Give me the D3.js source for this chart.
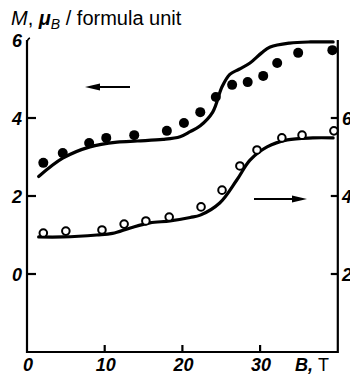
<!DOCTYPE html>
<html><head><meta charset="utf-8">
<script src="https://cdn.jsdelivr.net/npm/d3@7"></script>
<style>body{margin:0;background:#fff}svg{display:block}</style>
</head><body>
<script>
// Field B (T) and magnetization, left axis (filled dots)
const filledB = [2.1, 4.6, 8.0, 10.2, 13.8, 18.0, 20.2, 22.3, 24.3, 26.4, 28.4, 30.4, 32.2, 34.9, 39.3];
const filledM = [2.85, 3.1, 3.36, 3.49, 3.56, 3.67, 3.87, 4.15, 4.54, 4.85, 4.92, 5.08, 5.41, 5.67, 5.74];
const filledCurveB = [1.5, 4.6, 8.1, 11.6, 14.2, 17.5, 19.7, 21.0, 22.3, 23.9, 25.1, 26.1, 27.3, 28.7, 30.2, 31.3, 33.8, 36.5, 39.4];
const filledCurveM = [2.5, 2.97, 3.26, 3.38, 3.41, 3.45, 3.52, 3.65, 3.8, 4.15, 4.8, 5.12, 5.25, 5.41, 5.67, 5.82, 5.92, 5.95, 5.95];
// right axis (open circles)
const openB = [2.1, 5.0, 9.65, 12.5, 15.3, 18.3, 22.4, 25.1, 27.4, 29.6, 32.8, 35.4, 39.5];
const openM = [3.05, 3.1, 3.13, 3.28, 3.36, 3.46, 3.72, 4.15, 4.77, 5.18, 5.49, 5.56, 5.67];
const openCurveB = [1.5, 4.6, 9.0, 11.0, 13.3, 15.8, 18.4, 21.0, 22.3, 24.8, 27.0, 28.7, 30.9, 33.5, 36.8, 39.4];
const openCurveM = [2.95, 2.95, 3.0, 3.04, 3.18, 3.31, 3.36, 3.45, 3.51, 3.82, 4.41, 4.92, 5.26, 5.44, 5.49, 5.49];
const xTicks = [0, 10, 20, 30];
const leftTicks = [0, 2, 4, 6];
const rightTicks = [2, 4, 6];

const W = 350, H = 376;
const svg = d3.select("body").append("svg").attr("width", W).attr("height", H);
const x = d3.scaleLinear().domain([0, 40]).range([27, 337.8]);
const yL = d3.scaleLinear().domain([-2, 6]).range([352, 40]);
const yR = d3.scaleLinear().domain([0, 8]).range([352, 40]);

const tickFont = "'Liberation Sans', Arial, sans-serif";

// axes
const axisG = svg.append("g").attr("stroke", "#000").attr("stroke-width", 2.2).attr("fill", "none");
axisG.append("path").attr("d", `M${x(0)},${yL(6)}L${x(0)},${yL(-2)}L${x(40)},${yL(-2)}L${x(40)},${yL(6)}`);
// small bracket at top of left axis
axisG.append("path").attr("d", `M${x(0)+3},${yL(6)-2}Q${x(0)},${yL(6)-1} ${x(0)},${yL(6)+4}`).attr("stroke-width", 1.5);

// ticks
xTicks.filter(d => d > 0).forEach(d => {
  axisG.append("line").attr("x1", x(d)).attr("x2", x(d)).attr("y1", yL(-2)).attr("y2", yL(-2) - 7);
});
leftTicks.filter(d => d < 6).forEach(d => {
  axisG.append("line").attr("x1", x(0)).attr("x2", x(0) + 9).attr("y1", yL(d)).attr("y2", yL(d));
});
rightTicks.forEach(d => {
  axisG.append("line").attr("x1", x(40)).attr("x2", x(40) - 7).attr("y1", yR(d)).attr("y2", yR(d));
});

// tick labels
const lab = svg.append("g").attr("font-family", tickFont).attr("font-weight", "bold")
  .attr("font-style", "italic").attr("font-size", 18).attr("fill", "#000");
leftTicks.forEach(d => {
  lab.append("text").attr("x", 22).attr("y", yL(d) + 7).attr("text-anchor", "end").text(d);
});
rightTicks.forEach(d => {
  lab.append("text").attr("x", 342).attr("y", yR(d) + 7).attr("text-anchor", "start").text(d);
});
xTicks.forEach(d => {
  lab.append("text").attr("x", x(d) + 1).attr("y", 371).attr("text-anchor", "middle").text(d);
});
const bl = svg.append("text").attr("x", 295).attr("y", 371).attr("font-family", tickFont).attr("font-size", 18).attr("fill", "#000");
bl.append("tspan").attr("font-weight", "bold").attr("font-style", "italic").text("B,");
bl.append("tspan").attr("dx", 5).text("T");

// title
const t = svg.append("text").attr("x", 11).attr("y", 25).attr("font-family", tickFont).attr("font-size", 20).attr("fill", "#000");
t.append("tspan").attr("font-style", "italic").text("M");
t.append("tspan").text(", ");
t.append("tspan").attr("font-style", "italic").attr("font-weight", "bold").text("μ");
t.append("tspan").attr("font-style", "italic").attr("font-size", 14).attr("dy", 4).text("B");
t.append("tspan").attr("dy", -4).text(" / formula unit");

// curves
const lineL = d3.line().x(d => x(d[0])).y(d => yL(d[1])).curve(d3.curveCatmullRom.alpha(0.5));
const lineR = d3.line().x(d => x(d[0])).y(d => yR(d[1])).curve(d3.curveCatmullRom.alpha(0.5));
svg.append("path").datum(d3.zip(filledCurveB, filledCurveM)).attr("d", lineL)
  .attr("fill", "none").attr("stroke", "#000").attr("stroke-width", 3.2).attr("stroke-linecap", "round");
svg.append("path").datum(d3.zip(openCurveB, openCurveM)).attr("d", lineR)
  .attr("fill", "none").attr("stroke", "#000").attr("stroke-width", 3.2).attr("stroke-linecap", "round");

// points
svg.append("g").selectAll("circle").data(d3.zip(filledB, filledM)).join("circle")
  .attr("cx", d => x(d[0])).attr("cy", d => yL(d[1])).attr("r", 5).attr("fill", "#000");
svg.append("g").selectAll("circle").data(d3.zip(openB, openM)).join("circle")
  .attr("cx", d => x(d[0])).attr("cy", d => yR(d[1])).attr("r", 3.8)
  .attr("fill", "#fff").attr("stroke", "#000").attr("stroke-width", 2);

// arrows
const arrowG = svg.append("g");
function arrow(x1, x2, y) {
  const dir = Math.sign(x2 - x1);
  arrowG.append("line").attr("x1", x1).attr("x2", x2 - dir * 8).attr("y1", y).attr("y2", y)
    .attr("stroke", "#000").attr("stroke-width", 2);
  arrowG.append("path").attr("d", `M${x2},${y}L${x2 - dir * 15},${y - 3.5}L${x2 - dir * 15},${y + 3.5}Z`).attr("fill", "#000");
}
arrow(130, 85, 87);
arrow(254, 307, 199);
</script>
</body></html>
